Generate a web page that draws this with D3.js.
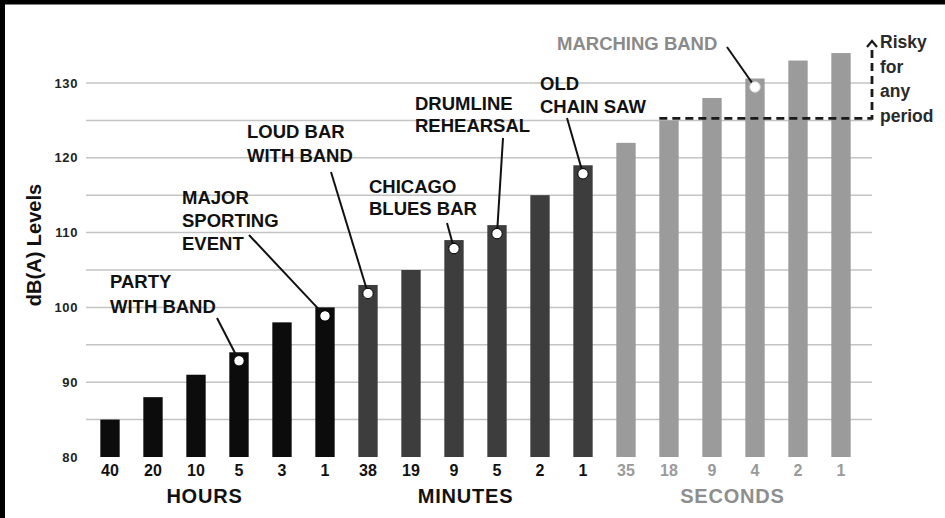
<!DOCTYPE html>
<html>
<head>
<meta charset="utf-8">
<script src="https://cdn.jsdelivr.net/npm/d3@7"></script>
<style>
  html, body { margin: 0; padding: 0; background: #fff; }
  svg { display: block; }
  text { font-family: "Liberation Sans", Arial, sans-serif; font-weight: bold; }
</style>
</head>
<body>
<svg id="chart" width="945" height="518"></svg>
<script>
// ---- data ----
const durations = ["40","20","10","5","3","1","38","19","9","5","2","1","35","18","9","4","2","1"];
const units     = ["HOURS","HOURS","HOURS","HOURS","HOURS","HOURS",
                   "MINUTES","MINUTES","MINUTES","MINUTES","MINUTES","MINUTES",
                   "SECONDS","SECONDS","SECONDS","SECONDS","SECONDS","SECONDS"];
const levels    = [85, 88, 91, 94, 98, 100, 103, 105, 109, 111, 115, 119, 122, 125, 128, 130.6, 133, 134];
const yTicks    = [80, 90, 100, 110, 120, 130];
const gridValues = [85, 90, 95, 100, 105, 110, 115, 120, 125, 130];
const groups    = ["HOURS", "MINUTES", "SECONDS"];
const riskyLevel = 125;
const annotations = [
  { bar: 3,  lines: ["PARTY", "WITH BAND"] },
  { bar: 5,  lines: ["MAJOR", "SPORTING", "EVENT"] },
  { bar: 6,  lines: ["LOUD BAR", "WITH BAND"] },
  { bar: 8,  lines: ["CHICAGO", "BLUES BAR"] },
  { bar: 9,  lines: ["DRUMLINE", "REHEARSAL"] },
  { bar: 11, lines: ["OLD", "CHAIN SAW"] },
  { bar: 15, lines: ["MARCHING BAND"] }
];
const riskyText = ["Risky", "for", "any", "period"];

// ---- layout (positions/styles) ----
const annLayout = [
  { tx: 110, ty: 288, lh: 25, sx: 217, sy: 318, color: "#111" },
  { tx: 182, ty: 204, lh: 23, sx: 249, sy: 235, color: "#111" },
  { tx: 247, ty: 138, lh: 24, sx: 331, sy: 172, color: "#111" },
  { tx: 369, ty: 193, lh: 22, sx: 447, sy: 223, color: "#111" },
  { tx: 415, ty: 110, lh: 22, sx: 503, sy: 138, color: "#111" },
  { tx: 540, ty: 90,  lh: 23, sx: 567, sy: 118, color: "#111" },
  { tx: 557, ty: 50,  lh: 23, sx: 727, sy: 47,  color: "#8a8a8a" }
];
const groupColor = { HOURS: "#0c0c0c", MINUTES: "#3d3d3d", SECONDS: "#9b9b9b" };
const tickColor  = { HOURS: "#111", MINUTES: "#111", SECONDS: "#9a9a9a" };

const svg = d3.select("#chart");

const x = d3.scaleBand()
  .domain(d3.range(durations.length))
  .range([88.5, 862.5])
  .paddingInner(0.55)
  .paddingOuter(0.275);

const y = d3.scaleLinear().domain([80, 130]).range([457, 83]);

// frame (top and left edges)
svg.append("rect").attr("x", 0).attr("y", 0).attr("width", 945).attr("height", 4.5).attr("fill", "#000");
svg.append("rect").attr("x", 0).attr("y", 0).attr("width", 5).attr("height", 518).attr("fill", "#000");

// grid
svg.append("g").selectAll("line").data(gridValues).join("line")
  .attr("x1", 86).attr("x2", 872)
  .attr("y1", d => y(d)).attr("y2", d => y(d))
  .attr("stroke", "#c4c4c4").attr("stroke-width", 1.5);

// y axis labels
const yAxis = d3.axisLeft(y).tickValues(yTicks).tickSize(0).tickPadding(0);
const gy = svg.append("g").attr("transform", "translate(78,0)").call(yAxis);
gy.select(".domain").remove();
gy.selectAll("text")
  .attr("font-size", 13).attr("font-weight", "bold").attr("fill", "#222")
  .attr("letter-spacing", "0.6px")
  .style("font-family", "'Liberation Sans', Arial, sans-serif");

svg.append("text")
  .attr("transform", "translate(41,245) rotate(-90)")
  .attr("text-anchor", "middle")
  .attr("font-size", 20).attr("fill", "#111")
  .text("dB(A) Levels");

// bars
svg.append("g").selectAll("rect").data(levels).join("rect")
  .attr("x", (d, i) => x(i))
  .attr("width", x.bandwidth())
  .attr("y", d => y(d))
  .attr("height", d => y(80) - y(d))
  .attr("fill", (d, i) => groupColor[units[i]]);

// x tick labels
const xAxis = d3.axisBottom(x).tickFormat(i => durations[i]).tickSize(0).tickPadding(0);
const gx = svg.append("g").attr("transform", "translate(0,465)").call(xAxis);
gx.select(".domain").remove();
gx.selectAll("text")
  .attr("font-size", 16).attr("font-weight", "bold")
  .attr("dy", "0.71em")
  .attr("fill", i => tickColor[units[i]])
  .style("font-family", "'Liberation Sans', Arial, sans-serif");

// group labels
const groupOffset = { HOURS: -13, MINUTES: -10, SECONDS: -1 };
groups.forEach(g => {
  const idx = d3.range(units.length).filter(i => units[i] === g);
  const cx = d3.mean(idx, i => x(i) + x.bandwidth() / 2) + groupOffset[g];
  svg.append("text")
    .attr("x", cx).attr("y", 503)
    .attr("text-anchor", "middle")
    .attr("font-size", 20).attr("letter-spacing", "0.8px")
    .attr("fill", g === "SECONDS" ? "#8e8e8e" : "#111")
    .text(g);
});

// risky threshold dashed line with arrow
const riskX0 = x(13);
const riskX1 = 872;
const riskY = y(riskyLevel) - 2;
svg.append("path")
  .attr("d", `M${riskX0},${riskY} H${riskX1} V47`)
  .attr("fill", "none").attr("stroke", "#1a1a1a")
  .attr("stroke-width", 2.8).attr("stroke-dasharray", "8,5");
svg.append("path")
  .attr("d", `M${riskX1 - 5},47 L${riskX1},41 L${riskX1 + 5},47`)
  .attr("fill", "none").attr("stroke", "#1a1a1a").attr("stroke-width", 2.2);
svg.append("g").selectAll("text").data(riskyText).join("text")
  .attr("x", 880).attr("y", (d, i) => 48 + i * 24.5)
  .attr("font-size", 17.5).attr("fill", "#2a2a2a")
  .text(d => d);

// annotations
annotations.forEach((a, k) => {
  const L = annLayout[k];
  const cx = x(a.bar) + x.bandwidth() / 2;
  const cy = y(levels[a.bar]) + 8.5;
  svg.append("line")
    .attr("x1", L.sx).attr("y1", L.sy)
    .attr("x2", cx).attr("y2", cy)
    .attr("stroke", "#111").attr("stroke-width", 2);
  svg.append("circle")
    .attr("cx", cx).attr("cy", cy).attr("r", 5.2)
    .attr("fill", "#fff").attr("stroke", a.bar >= 12 ? "#ddd" : "#000").attr("stroke-width", 1);
  svg.append("g").selectAll("text").data(a.lines).join("text")
    .attr("x", L.tx).attr("y", (d, i) => L.ty + i * L.lh)
    .attr("font-size", 18.5).attr("fill", L.color)
    .text(d => d);
});
</script>
</body>
</html>
